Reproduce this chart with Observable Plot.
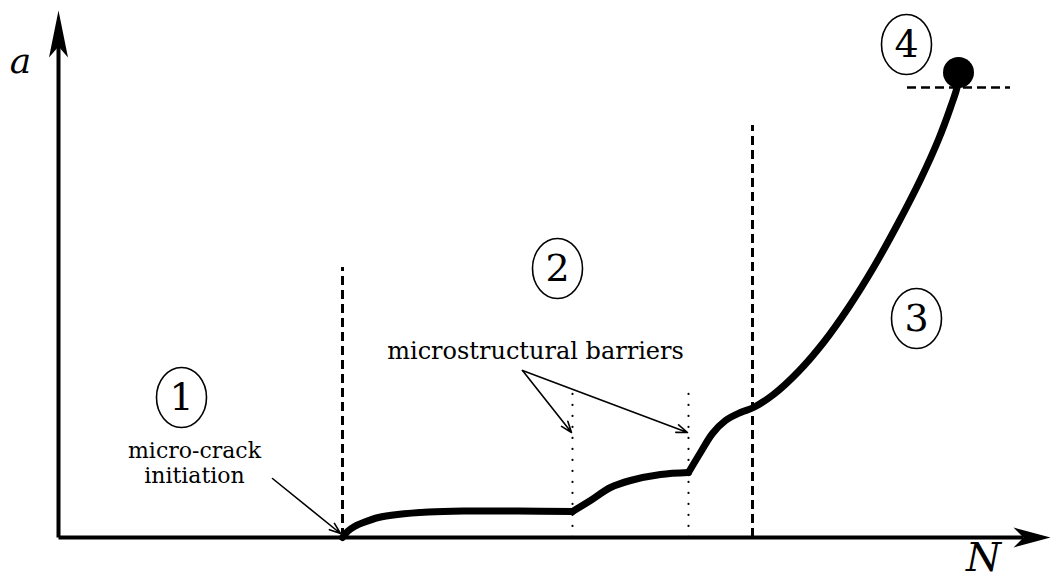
<!DOCTYPE html>
<html>
<head>
<meta charset="utf-8">
<script src="https://cdn.jsdelivr.net/npm/d3@7"></script>
<script src="https://cdn.jsdelivr.net/npm/@observablehq/plot@0.6"></script>
<style>
  html, body { margin: 0; padding: 0; background: #fff; }
  #chart svg { display: block; }
</style>
</head>
<body>
<div id="chart"></div>
<script>
// Schematic crack growth curve: a (crack length) vs N (cycles), origin at axis corner
const seg1 = [[284,0],[289,6],[296,11],[305,15],[320,20],[339,23],[370,25.5],[405,26.5],[460,26.5],[514,26]];
const seg2 = [[514,26],[532,37],[552,50],[572,57],[602,63],[630,65]];
const seg3 = [[630,65],[642,85],[654,104],[667,117],[682,125],[695,130],[715,143],[740,166],[765,195],[790,230],[815,270],[840,315],[862,358],[880,398],[892,430],[899,452],[900,465]];
const curve = [
  ...seg1.map(([x, y]) => ({x, y, seg: 1})),
  ...seg2.map(([x, y]) => ({x, y, seg: 2})),
  ...seg3.map(([x, y]) => ({x, y, seg: 3}))
];
const endPoint = [{x: 900, y: 465}];

// region boundaries
const dashedV = [{x: 284, y1: 0, y2: 270}, {x: 694, y1: 0, y2: 412}];
const dottedV = [{x: 514, y1: 0, y2: 144}, {x: 630, y1: 0, y2: 144}];
const dashedH = [{y: 450, x1: 849, x2: 952}];

// circled stage numbers
const stages = ["1", "2", "3", "4"];
const stageX = [123, 499, 858, 848];
const stageY = [140, 269, 219, 493];
const stageData = stages.map((s, i) => ({label: s, x: stageX[i], y: stageY[i]}));

// annotations
const notes = [
  {text: "micro-crack\ninitiation", x: 136, y: 75, size: 22, lh: 1.12},
  {text: "microstructural barriers", x: 477, y: 186, size: 24, lh: 1}
];
const pointers = [
  {x1: 214, y1: 59, x2: 282, y2: 4},
  {x1: 464, y1: 167, x2: 513, y2: 105},
  {x1: 464, y1: 167, x2: 629, y2: 105}
];

// axes
const yAxisLine = [{x: 0, y: 0}, {x: 0, y: 495}];
const xAxisLine = [{x: 0, y: 0}, {x: 965, y: 0}];
const yHead = [{x: 0, y: 527}, {x: -9.5, y: 480}, {x: 0, y: 491}, {x: 9.5, y: 480}];
const xHead = [{x: 992, y: 0}, {x: 955, y: 10}, {x: 965, y: 0}, {x: 955, y: -10}];
const axisLabels = [
  {text: "a", x: -38, y: 476, size: 36},
  {text: "N", x: 925, y: -21, size: 40}
];

const ellipseSymbol = {
  draw(context, size) {
    const rx = 25, ry = 30, k = 0.5523;
    context.moveTo(rx, 0);
    context.bezierCurveTo(rx, ry * k, rx * k, ry, 0, ry);
    context.bezierCurveTo(-rx * k, ry, -rx, ry * k, -rx, 0);
    context.bezierCurveTo(-rx, -ry * k, -rx * k, -ry, 0, -ry);
    context.bezierCurveTo(rx * k, -ry, rx, -ry * k, rx, 0);
    context.closePath();
  }
};

const serif = "'DejaVu Serif', 'Liberation Serif', serif";

const plot = Plot.plot({
  width: 1051,
  height: 579,
  margin: 0,
  x: {domain: [-58, 993], axis: null},
  y: {domain: [-42, 537], axis: null},
  style: {background: "#fff", overflow: "visible"},
  marks: [
    Plot.ruleX(dashedV, {x: "x", y1: "y1", y2: "y2", stroke: "black", strokeWidth: 3, strokeDasharray: "9,5"}),
    Plot.ruleX(dottedV, {x: "x", y1: "y1", y2: "y2", stroke: "black", strokeWidth: 2.2, strokeDasharray: "0.1,10.9", strokeLinecap: "round"}),
    Plot.ruleY(dashedH, {y: "y", x1: "x1", x2: "x2", stroke: "black", strokeWidth: 2.5, strokeDasharray: "9,5"}),
    Plot.line(yAxisLine, {x: "x", y: "y", stroke: "black", strokeWidth: 4, strokeLinecap: "butt"}),
    Plot.line(xAxisLine, {x: "x", y: "y", stroke: "black", strokeWidth: 4, strokeLinecap: "butt"}),
    Plot.line(yHead, {x: "x", y: "y", fill: "black", stroke: "none"}),
    Plot.line(xHead, {x: "x", y: "y", fill: "black", stroke: "none"}),
    Plot.arrow(pointers, {x1: "x1", y1: "y1", x2: "x2", y2: "y2", stroke: "black", strokeWidth: 1.6, headLength: 11, headAngle: 40}),
    Plot.dot(stageData, {x: "x", y: "y", symbol: ellipseSymbol, r: 20, fill: "white", stroke: "black", strokeWidth: 1.6}),
    Plot.line(curve, {x: "x", y: "y", z: "seg", curve: "catmull-rom", stroke: "black", strokeWidth: 7, strokeLinejoin: "round"}),
    Plot.dot(endPoint, {x: "x", y: "y", r: 15.5, fill: "black", stroke: "none"}),
    Plot.text(stageData, {x: "x", y: "y", text: "label", fontSize: 38, fontFamily: serif, fill: "black"}),
    Plot.text(notes.slice(0, 1), {x: "x", y: "y", text: "text", fontSize: 22, lineHeight: 1.12, fontFamily: serif, fill: "black"}),
    Plot.text(notes.slice(1), {x: "x", y: "y", text: "text", fontSize: 24, fontFamily: serif, fill: "black"}),
    Plot.text(axisLabels, {x: "x", y: "y", text: "text", fontSize: d => d.size, fontStyle: "italic", fontFamily: serif, fill: "black"})
  ]
});
document.getElementById("chart").appendChild(plot);
</script>
</body>
</html>
